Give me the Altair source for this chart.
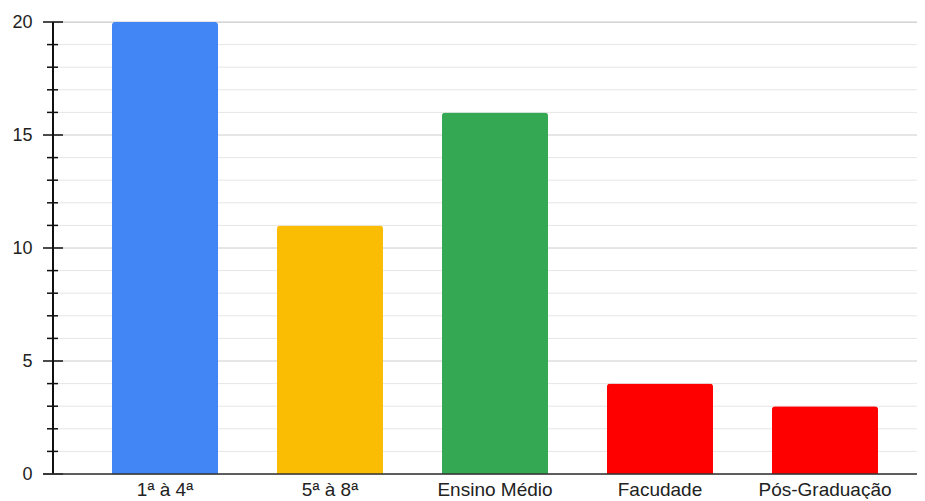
import altair as alt
import pandas as pd

categories = ["1ª à 4ª", "5ª à 8ª", "Ensino Médio", "Facudade", "Pós-Graduação"]
values = [20, 11, 16, 4, 3]
colors = ["#4285F4", "#FBBC04", "#34A853", "#FF0000", "#FF0000"]
major_ticks = [0, 5, 10, 15, 20]
minor_ticks = [v for v in range(0, 21) if v % 5 != 0]

W, H = 864, 452

bars_df = pd.DataFrame({"cat": categories, "val": values})
major_df = pd.DataFrame({"v": major_ticks})
minor_df = pd.DataFrame({"v": minor_ticks})

yscale = alt.Scale(domain=[0, 20], nice=False, zero=True)
xscale = alt.Scale(domain=categories, range=[29.5, 854.5], paddingInner=0.3576, paddingOuter=0.1788)

yaxis = alt.Axis(title=None, values=major_ticks, domain=False, ticks=False, tickSize=0,
                 labelPadding=21, labelFontSize=18, labelFont="Liberation Sans",
                 labelColor="#222222", grid=False)

minor_grid = alt.Chart(minor_df).mark_rule(color="#e6e6e6", strokeWidth=1).encode(
    y=alt.Y("v:Q", scale=yscale, axis=yaxis), x=alt.value(0), x2=alt.value(W)
)
major_grid = alt.Chart(major_df).mark_rule(color="#cccccc", strokeWidth=1).encode(
    y=alt.Y("v:Q", scale=yscale, axis=yaxis), x=alt.value(0), x2=alt.value(W)
)

bars = alt.Chart(bars_df).mark_bar(cornerRadiusTopLeft=3, cornerRadiusTopRight=3).encode(
    x=alt.X("cat:N", scale=xscale, sort=categories,
            axis=alt.Axis(title=None, domain=False, ticks=False, tickSize=0, labelAngle=0,
                          labelPadding=6, labelFontSize=19, labelFont="Liberation Sans",
                          labelColor="#222222", grid=False)),
    y=alt.Y("val:Q", scale=yscale, axis=yaxis),
    color=alt.Color("cat:N", scale=alt.Scale(domain=categories, range=colors), legend=None),
)

vaxis = alt.Chart(major_df).mark_rule(color="#111111", strokeWidth=1.5).encode(
    x=alt.value(0), y=alt.value(0), y2=alt.value(H)
)
minor_tk = alt.Chart(minor_df).mark_rule(color="#111111", strokeWidth=1.5).encode(
    y=alt.Y("v:Q", scale=yscale, axis=yaxis), x=alt.value(-6), x2=alt.value(5)
)
major_tk = alt.Chart(major_df).mark_rule(color="#111111", strokeWidth=1.5).encode(
    y=alt.Y("v:Q", scale=yscale, axis=yaxis), x=alt.value(-10), x2=alt.value(10)
)
baseline = alt.Chart(pd.DataFrame({"v": [0]})).mark_rule(color="#333333", strokeWidth=1.5).encode(
    y=alt.Y("v:Q", scale=yscale, axis=yaxis), x=alt.value(-10), x2=alt.value(W)
)

chart = alt.layer(minor_grid, major_grid, bars, vaxis, minor_tk, major_tk, baseline).properties(
    width=W, height=H,
    autosize=alt.AutoSizeParams(type="none"),
    padding={"left": 45, "top": 14, "right": 0, "bottom": 25},
).configure_view(stroke=None).configure(background="white")

chart.save("out.html", embed_options={"renderer": "svg", "actions": False})
